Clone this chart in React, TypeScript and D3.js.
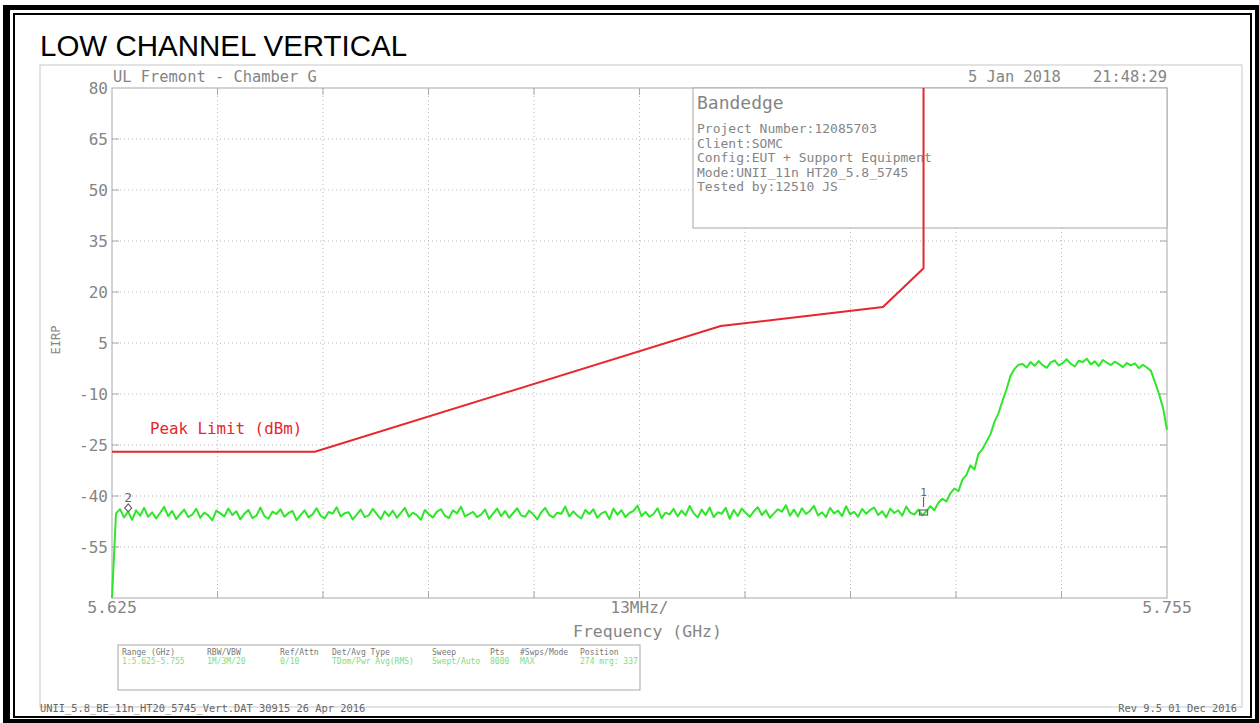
import React from "react";
import * as d3 from "d3";

// ---------- data ----------
const freqStart = 5.625;
const freqStop = 5.755;
const yTicks = [80, 65, 50, 35, 20, 5, -10, -25, -40, -55];
const yMin = -70;
const yMax = 80;
const xDivisions = 10;

const limitFreq = [5.625, 5.65, 5.7, 5.72, 5.725, 5.725];
const limitVal = [-27, -27, 10, 15.6, 27, 80];

// trace samples, evenly spaced from freqStart to freqStop
const traceVals = [
  -70,
  -45.1, -43.9, -46.3, -44.6, -47.0, -44.2, -45.8, -43.5, -46.1, -44.8,
  -46.6, -45.0, -43.2, -45.9, -44.4, -46.8, -45.3, -44.0, -46.2, -45.5,
  -43.8, -46.4, -44.9, -45.7, -47.2, -44.3, -45.1, -46.0, -43.7, -45.6,
  -44.5, -46.9, -45.2, -44.1, -46.5, -45.8, -43.4, -45.9, -46.7, -44.6,
  -45.3, -43.9, -46.1, -45.0, -44.4, -47.1, -45.6, -44.2, -46.3, -45.4,
  -43.6, -45.8, -46.6, -44.7, -45.2, -43.3, -46.0, -45.1, -44.8, -46.9,
  -45.5, -44.0, -46.2, -45.7, -43.8, -45.3, -46.8, -44.5, -45.9, -44.3,
  -46.4, -45.0, -43.5, -46.1, -44.9, -45.6, -47.0, -44.1, -45.4, -46.3,
  -44.6, -43.9, -45.8, -46.5, -44.2, -45.1, -43.2, -46.0, -45.3, -44.7,
  -46.2, -45.5, -44.0, -46.7, -45.2, -43.7, -45.9, -44.4, -46.4, -45.0,
  -43.6, -45.7, -46.1, -44.3, -45.4, -46.9, -44.8, -43.5, -45.6, -46.3,
  -44.9, -45.2, -43.1, -46.0, -44.5, -45.8, -46.6, -44.1, -45.3, -43.9,
  -46.4, -45.1, -44.6, -46.8, -43.7, -45.5, -44.2, -46.2, -45.0, -44.4,
  -42.8, -45.9, -44.7, -46.1, -45.3, -43.6, -46.5, -44.9, -45.4, -43.8,
  -46.0, -44.3, -45.7, -42.9, -45.1, -46.3, -44.0, -45.6, -43.4, -46.2,
  -44.8, -45.2, -43.5, -46.7, -44.1, -45.9, -43.7, -45.0, -46.1, -44.5,
  -43.3, -45.6, -44.2, -46.4, -45.1, -43.9, -44.6, -42.7, -45.8, -44.0,
  -46.0, -43.6, -45.3, -44.4, -42.9, -45.7, -44.8, -46.2, -43.5, -45.1,
  -44.3, -45.9, -43.0, -45.4, -44.7, -46.1, -43.8, -45.2, -44.1, -43.4,
  -45.6, -44.5, -46.3, -43.7, -45.0, -44.2, -45.8, -43.1, -44.9, -45.5,
  -44.0, -45.7,
  -44.5, -43.0, -44.2, -42.0, -40.8, -41.6, -39.2, -37.8, -38.6, -35.2,
  -33.8, -31.0, -32.2, -27.6, -26.2, -24.0, -21.8, -18.2, -15.6, -12.0,
  -8.6, -4.6, -2.6, -1.4,
  -1.2, -2.2, -0.6, -1.7, -0.3, -1.5, -2.3, -0.7, -0.1, -1.6,
  -0.9, 0.2, -1.1, -1.9, -0.2, -0.6, 0.4, -1.3, -0.4, -1.8,
  0.0, -0.8, -1.5, -0.5, -1.2, -2.1, -0.9, -1.6, -1.0, -2.4,
  -1.4, -2.2,
  -3.2, -6.5, -10.0, -14.0, -20.5,
];

const markerFreq = [5.725, 5.627];
const markerVal = [-45, -43.5];
const markerNames = ["1", "2"];

const infoLines = [
  "Project Number:12085703",
  "Client:SOMC",
  "Config:EUT + Support Equipment",
  "Mode:UNII_11n HT20_5.8_5745",
  "Tested by:12510 JS",
];

const tableHeaders = ["Range (GHz)", "RBW/VBW", "Ref/Attn", "Det/Avg Type", "Sweep", "Pts", "#Swps/Mode", "Position"];
const tableValues = ["1:5.625-5.755", "1M/3M/20", "0/10", "TDom/Pwr Avg(RMS)", "Swept/Auto", "8000", "MAX", "274 mrg: 337"];
const tableColX = [122, 207, 280, 332, 432, 490, 520, 580];

// ---------- layout ----------
const W = 1259;
const H = 723;
const PL = 112, PR = 1167, PT = 88, PB = 598;
const MONO = "'DejaVu Sans Mono', 'Liberation Mono', monospace";
const GRAY_TXT = "#858585";
const GRAY_LINE = "#a8a8a8";
const GRID = "#b8b8b8";
const RED = "#e8262e";
const GREEN = "#2fe62a";

export default function App() {
  const x = d3.scaleLinear().domain([freqStart, freqStop]).range([PL, PR]);
  const y = d3.scaleLinear().domain([yMin, yMax]).range([PB, PT]);
  const idx = d3.scaleLinear().domain([0, traceVals.length - 1]).range([freqStart, freqStop]);

  const xGrid = d3.range(1, xDivisions).map((k) => freqStart + ((freqStop - freqStart) * k) / xDivisions);

  const limitLine = d3
    .line<number>()
    .x((_, i) => x(limitFreq[i]))
    .y((d) => y(d));
  const traceLine = d3
    .line<number>()
    .x((_, i) => x(idx(i)))
    .y((d) => y(Math.max(yMin, Math.min(yMax, d))));

  return (
    <svg
      width={W}
      height={H}
      style={{ position: "absolute", left: 0, top: 0, background: "#fff" }}
    >
      <rect x={0} y={0} width={W} height={H} fill="#fff" />
      {/* outer double border */}
      <rect x={3} y={5} width={1256} height={5} fill="#000" />
      <rect x={3} y={5} width={7} height={718} fill="#000" />
      <rect x={1255} y={5} width={4} height={718} fill="#000" />
      <rect x={3} y={719} width={1256} height={4} fill="#000" />
      <rect x={14} y={14} width={1237} height={703} fill="none" stroke="#000" strokeWidth={2} />

      {/* title */}
      <text x={40} y={56} fontFamily="'Liberation Sans', Arial, sans-serif" fontSize={29.5} fill="#000">
        LOW CHANNEL VERTICAL
      </text>

      {/* chart frame */}
      <rect x={40} y={65} width={1202} height={642} fill="none" stroke="#c8c8c8" strokeWidth={1} />

      {/* grid */}
      {yTicks.slice(1).map((v) => (
        <line key={"hg" + v} x1={PL} x2={PR} y1={y(v)} y2={y(v)} stroke={GRID} strokeWidth={1} strokeDasharray="1,3" />
      ))}
      {xGrid.map((f, i) => (
        <line key={"vg" + i} x1={x(f)} x2={x(f)} y1={PT} y2={PB} stroke={GRID} strokeWidth={1} strokeDasharray="1,3" />
      ))}
      {/* ticks */}
      {xGrid.map((f, i) => (
        <g key={"xt" + i}>
          <line x1={x(f)} x2={x(f)} y1={PB} y2={PB - 7} stroke={GRAY_LINE} strokeWidth={1} />
          <line x1={x(f)} x2={x(f)} y1={PT} y2={PT + 7} stroke={GRAY_LINE} strokeWidth={1} />
        </g>
      ))}
      {yTicks.slice(1).map((v) => (
        <g key={"yt" + v}>
          <line x1={PL} x2={PL + 7} y1={y(v)} y2={y(v)} stroke={GRAY_LINE} strokeWidth={1} />
          <line x1={PR} x2={PR - 7} y1={y(v)} y2={y(v)} stroke={GRAY_LINE} strokeWidth={1} />
        </g>
      ))}
      {/* plot frame */}
      <rect x={PL} y={PT} width={PR - PL} height={PB - PT} fill="none" stroke={GRAY_LINE} strokeWidth={1} />

      {/* y labels */}
      {yTicks.map((v) => (
        <text key={"yl" + v} x={108} y={y(v)} dy="0.36em" textAnchor="end" fontFamily={MONO} fontSize={16} fill={GRAY_TXT}>
          {v}
        </text>
      ))}
      <text
        transform={`translate(60,${340}) rotate(-90)`}
        textAnchor="middle"
        fontFamily={MONO}
        fontSize={12}
        fill={GRAY_TXT}
      >
        EIRP
      </text>

      {/* x labels */}
      <text x={x(freqStart)} y={613} textAnchor="middle" fontFamily={MONO} fontSize={16.5} fill={GRAY_TXT}>
        {freqStart.toFixed(3)}
      </text>
      <text x={x(freqStop)} y={613} textAnchor="middle" fontFamily={MONO} fontSize={16.5} fill={GRAY_TXT}>
        {freqStop.toFixed(3)}
      </text>
      <text x={(PL + PR) / 2} y={613} textAnchor="middle" fontFamily={MONO} fontSize={16} fill={GRAY_TXT}>
        13MHz/
      </text>
      <text x={(PL + PR) / 2 + 8} y={637} textAnchor="middle" fontFamily={MONO} fontSize={16.5} fill={GRAY_TXT}>
        Frequency (GHz)
      </text>

      {/* header texts */}
      <text x={113} y={82} fontFamily={MONO} fontSize={15.4} fill={GRAY_TXT}>
        UL Fremont - Chamber G
      </text>
      <text x={968} y={82} fontFamily={MONO} fontSize={15.4} fill={GRAY_TXT}>
        5 Jan 2018
      </text>
      <text x={1093} y={82} fontFamily={MONO} fontSize={15.4} fill={GRAY_TXT}>
        21:48:29
      </text>

      {/* info box */}
      <rect x={693} y={PT} width={PR - 693} height={228 - PT} fill="#fff" stroke={GRAY_LINE} strokeWidth={1} />
      <text x={697} y={109} fontFamily={MONO} fontSize={18} fill={GRAY_TXT}>
        Bandedge
      </text>
      {infoLines.map((t, i) => (
        <text key={"il" + i} x={697} y={133 + i * 14.5} fontFamily={MONO} fontSize={13} fill={GRAY_TXT}>
          {t}
        </text>
      ))}

      {/* limit line */}
      <path d={limitLine(limitVal) || ""} fill="none" stroke={RED} strokeWidth={2} />
      <text x={150} y={434} fontFamily={MONO} fontSize={15.8} fill={RED}>
        Peak Limit (dBm)
      </text>

      {/* trace */}
      <path d={traceLine(traceVals) || ""} fill="none" stroke={GREEN} strokeWidth={2} strokeLinejoin="round" />

      {/* markers */}
      {markerFreq.map((f, i) => {
        const mx = x(f);
        const my = y(markerVal[i]);
        return (
          <g key={"mk" + i} stroke="#666" fill="none" strokeWidth={1.2}>
            {i === 0 ? (
              <>
                <rect x={mx - 4} y={my - 3} width={8} height={5} />
                <line x1={mx} x2={mx} y1={my - 6} y2={my - 16} />
                <text x={mx} y={my - 17} textAnchor="middle" fontFamily={MONO} fontSize={11} fill="#666" stroke="none">
                  {markerNames[i]}
                </text>
              </>
            ) : (
              <>
                <path d={`M${mx - 3.5},${my} L${mx},${my - 4} L${mx + 3.5},${my} L${mx},${my + 4} Z`} />
                <text x={mx} y={my - 6} textAnchor="middle" fontFamily={MONO} fontSize={13} fill="#666" stroke="none">
                  {markerNames[i]}
                </text>
              </>
            )}
          </g>
        );
      })}

      {/* settings table */}
      <rect x={118} y={645} width={522} height={45} fill="none" stroke={GRAY_LINE} strokeWidth={1} />
      {tableHeaders.map((t, i) => (
        <text key={"th" + i} x={tableColX[i]} y={655} fontFamily={MONO} fontSize={8} fill="#777">
          {t}
        </text>
      ))}
      {tableValues.map((t, i) => (
        <text key={"tv" + i} x={tableColX[i]} y={664} fontFamily={MONO} fontSize={8} fill="#7be07b">
          {t}
        </text>
      ))}

      {/* footer */}
      <text x={40} y={712} fontFamily={MONO} fontSize={10.4} fill="#666">
        UNII_5.8_BE_11n_HT20_5745_Vert.DAT 30915 26 Apr 2016
      </text>
      <text x={1237} y={712} textAnchor="end" fontFamily={MONO} fontSize={10.4} fill="#666">
        Rev 9.5 01 Dec 2016
      </text>
    </svg>
  );
}
